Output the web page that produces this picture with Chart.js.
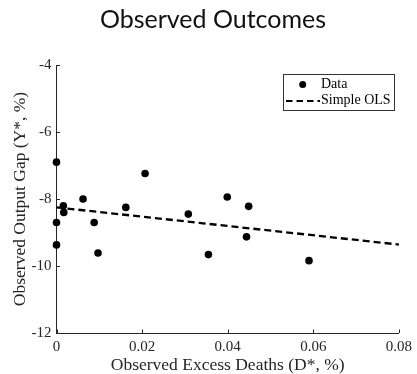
<!DOCTYPE html>
<html>
<head>
<meta charset="utf-8">
<script src="https://cdn.jsdelivr.net/npm/chart.js@4/dist/chart.umd.min.js"></script>
<style>
  html, body { margin: 0; padding: 0; background: #fff; }
  #wrap { width: 417px; height: 374px; position: relative; }
</style>
</head>
<body>
<div id="wrap"><canvas id="c" width="417" height="374"></canvas></div>
<script>
// ---- Data ----
const excessDeaths = [0.0000, 0.0062, 0.0016, 0.0017, 0.0000, 0.0088, 0.0000, 0.0097,
                      0.0162, 0.0207, 0.0308, 0.0355, 0.0399, 0.0449, 0.0444, 0.0590];
const outputGap    = [-6.90, -8.00, -8.20, -8.40, -8.70, -8.70, -9.37, -9.61,
                      -8.25, -7.24, -8.45, -9.66, -7.94, -8.22, -9.13, -9.84];
const olsX = [0, 0.08];
const olsY = [-8.25, -9.36];
const xTicks = [0, 0.02, 0.04, 0.06, 0.08];
const yTicks = [-12, -10, -8, -6, -4];
const seriesLabels = ['Data', 'Simple OLS'];
const titleText = 'Observed Outcomes';
const xTitle = 'Observed Excess Deaths (D*, %)';
const yTitle = 'Observed Output Gap (Y*, %)';

const SERIF = '"Liberation Serif", "Times New Roman", serif';
const AXIS_COLOR = '#262626';

const innerTicks = {
  id: 'innerTicks',
  afterDraw(chart) {
    const ctx = chart.ctx;
    const xs = chart.scales.x, ys = chart.scales.y;
    const area = chart.chartArea;
    ctx.save();
    ctx.strokeStyle = AXIS_COLOR;
    ctx.lineWidth = 1;
    xTicks.forEach(v => {
      const px = Math.round(xs.getPixelForValue(v)) + 0.5;
      ctx.beginPath();
      ctx.moveTo(px, area.bottom);
      ctx.lineTo(px, area.bottom - 3.5);
      ctx.stroke();
    });
    yTicks.forEach(v => {
      const py = Math.round(ys.getPixelForValue(v)) + 0.5;
      ctx.beginPath();
      ctx.moveTo(area.left, py);
      ctx.lineTo(area.left + 3.5, py);
      ctx.stroke();
    });
    // legend box
    const bx = 283.5, by = 74.5, bw = 111, bh = 36;
    ctx.fillStyle = '#fff';
    ctx.fillRect(bx, by, bw, bh);
    ctx.strokeStyle = '#333';
    ctx.lineWidth = 1;
    ctx.strokeRect(bx, by, bw, bh);
    const ds = chart.data.datasets;
    // Data entry
    ctx.fillStyle = '#000';
    ctx.beginPath();
    ctx.arc(302.7, 84.5, 3.5, 0, Math.PI * 2);
    ctx.fill();
    ctx.font = '14px ' + SERIF;
    ctx.textBaseline = 'middle';
    ctx.textAlign = 'left';
    ctx.fillText(ds[0].label, 321, 84.5);
    // OLS entry
    ctx.strokeStyle = '#000';
    ctx.lineWidth = 2.2;
    ctx.setLineDash([6.5, 4]);
    ctx.beginPath();
    ctx.moveTo(286, 101);
    ctx.lineTo(320, 101);
    ctx.stroke();
    ctx.setLineDash([]);
    ctx.fillText(ds[1].label, 321, 100.5);
    ctx.restore();
  }
};

new Chart(document.getElementById('c'), {
  data: {
    datasets: [
      {
        type: 'scatter',
        label: seriesLabels[0],
        data: excessDeaths.map((x, i) => ({ x: x, y: outputGap[i] })),
        backgroundColor: '#000',
        borderColor: '#000',
        borderWidth: 0,
        pointRadius: 3.8,
        pointHoverRadius: 3.8,
        clip: false
      },
      {
        type: 'line',
        label: seriesLabels[1],
        data: olsX.map((x, i) => ({ x: x, y: olsY[i] })),
        borderColor: '#000',
        borderWidth: 2.3,
        borderDash: [7, 4],
        pointRadius: 0,
        fill: false,
        tension: 0,
        clip: false
      }
    ]
  },
  options: {
    responsive: false,
    animation: false,
    layout: { padding: { left: 9, right: 0, top: 0, bottom: 0 } },
    plugins: {
      legend: { display: false },
      tooltip: { enabled: false },
      title: {
        display: true,
        text: titleText,
        color: '#111',
        font: { family: 'Lato, "Open Sans", sans-serif', size: 25, weight: 'normal' },
        padding: { top: 5, bottom: 30 }
      }
    },
    scales: {
      x: {
        type: 'linear',
        min: 0, max: 0.08,
        afterBuildTicks(s) { s.ticks = xTicks.map(v => ({ value: v })); },
        afterFit(s) { s.height = 41; },
        ticks: {
          color: '#262626',
          font: { family: SERIF, size: 15 },
          padding: 5,
          maxRotation: 0,
          callback: v => (v === 0 ? '0' : Number(v).toFixed(2))
        },
        grid: { display: false, drawTicks: false },
        border: { display: true, color: AXIS_COLOR, width: 1 },
        title: {
          display: true,
          text: xTitle,
          color: '#262626',
          font: { family: SERIF, size: 17.5, lineHeight: 1 },
          padding: { top: 0, bottom: 0 }
        }
      },
      y: {
        type: 'linear',
        min: -12, max: -4,
        afterBuildTicks(s) { s.ticks = yTicks.map(v => ({ value: v })); },
        afterFit(s) { s.width = 47.5; },
        ticks: {
          color: '#262626',
          font: { family: SERIF, size: 15 },
          padding: 5,
          callback: v => String(v)
        },
        grid: { display: false, drawTicks: false },
        border: { display: true, color: AXIS_COLOR, width: 1 },
        title: {
          display: true,
          text: yTitle,
          color: '#262626',
          font: { family: SERIF, size: 17.5, lineHeight: 1 },
          padding: { top: 3, bottom: 0 }
        }
      }
    }
  },
  plugins: [innerTicks]
});
</script>
</body>
</html>
